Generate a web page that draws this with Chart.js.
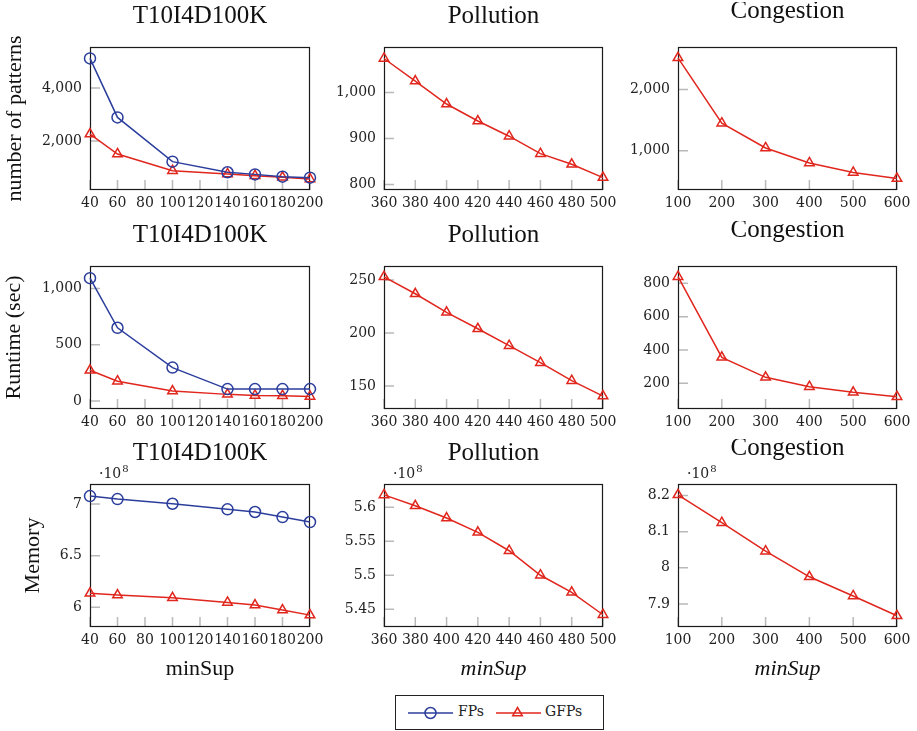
<!DOCTYPE html>
<html>
<head>
<meta charset="utf-8">
<script src="https://cdn.jsdelivr.net/npm/chart.js@4.4.1/dist/chart.umd.min.js"></script>
<style>
body { margin: 0; background: #fff; }
#wrap { position: relative; width: 917px; height: 731px; overflow: hidden; }
#wrap canvas { position: absolute; }
#legend { position: absolute; left: 395px; top: 695px; width: 207px; height: 33px; border: 1px solid #222;
  font: 14px "DejaVu Serif"; color: #222; }
#legend svg, #legend span { position: absolute; }
</style>
</head>
<body>
<div id="wrap">
  <div id="legend">
    <svg style="left:11px;top:6px" width="48" height="22"><line x1="1" y1="11" x2="46" y2="11" stroke="#2c3e9c" stroke-width="1.5"/><circle cx="23.5" cy="11" r="5.5" fill="none" stroke="#2c3e9c" stroke-width="1.5"/></svg>
    <span style="left:62px;top:7px">FPs</span>
    <svg style="left:99px;top:6px" width="48" height="22"><line x1="1" y1="11" x2="46" y2="11" stroke="#e0261d" stroke-width="1.5"/><polygon points="22.5,5.5 27.3,13.8 17.7,13.8" fill="none" stroke="#e0261d" stroke-width="1.5"/></svg>
    <span style="left:149px;top:7px">GFPs</span>
  </div>
</div>
<script>
// minSup values per dataset
const xT10 = [40, 60, 100, 140, 160, 180, 200]
const xPol = [360, 380, 400, 420, 440, 460, 480, 500]
const xCon = [100, 200, 300, 400, 500, 600]
const xTicksT10 = [40, 60, 80, 100, 120, 140, 160, 180, 200]
const xTicksPol = [360, 380, 400, 420, 440, 460, 480, 500]
const xTicksCon = [100, 200, 300, 400, 500, 600]

// number of patterns
const patT10FPs = [5120, 2890, 1220, 820, 740, 655, 615]
const patT10GFPs = [2260, 1510, 880, 755, 690, 630, 570]
const patPolGFPs = [1074, 1025, 975, 938, 905, 867, 844, 815]
const patConGFPs = [2520, 1450, 1045, 800, 645, 545]
const patT10Range = [150, 5550], patT10Ticks = [2000, 4000]
const patPolRange = [788, 1099], patPolTicks = [800, 900, 1000]
const patConRange = [357, 2697], patConTicks = [1000, 2000]

// runtime (sec)
const rtT10FPs = [1092, 651, 297, 106, 106, 106, 106]
const rtT10GFPs = [273, 176, 88, 59, 50, 47, 41]
const rtPolGFPs = [253, 237, 219.5, 204, 188, 172, 155, 140.5]
const rtConGFPs = [840, 356, 236, 180, 146, 120]
const rtT10Range = [-71, 1200], rtT10Ticks = [0, 500, 1000]
const rtPolRange = [128.3, 263.2], rtPolTicks = [150, 200, 250]
const rtConRange = [46, 904], rtConTicks = [200, 400, 600, 800]

// memory
const memT10FPs = [7.077e8, 7.048e8, 7.003e8, 6.949e8, 6.923e8, 6.874e8, 6.826e8]
const memT10GFPs = [6.136e8, 6.119e8, 6.093e8, 6.048e8, 6.022e8, 5.974e8, 5.925e8]
const memPolGFPs = [5.618e8, 5.602e8, 5.584e8, 5.563e8, 5.536e8, 5.500e8, 5.475e8, 5.442e8]
const memConGFPs = [8.202e8, 8.125e8, 8.046e8, 7.975e8, 7.922e8, 7.867e8]
const memT10Range = [5.81e8, 7.194e8], memT10Ticks = [6e8, 6.5e8, 7e8]
const memPolRange = [5.424e8, 5.634e8], memPolTicks = [5.45e8, 5.5e8, 5.55e8, 5.6e8]
const memConRange = [7.836e8, 8.232e8], memConTicks = [7.9e8, 8e8, 8.1e8, 8.2e8]

const blue = '#2c3e9c', red = '#e0261d'
const wrap = document.getElementById('wrap')

// plot frames in page pixels
const cols = [{l: 90, r: 310}, {l: 384, r: 603}, {l: 678, r: 897}]
const rows = [{t: 47, b: 190}, {t: 266, b: 409}, {t: 484, b: 627}]
const yTitles = ['number of patterns', 'Runtime (sec)', 'Memory']
const yTitlePad = [2, 1, 20]

const panels = [
  {row: 0, col: 0, title: 'T10I4D100K', xs: xT10, xTicks: xTicksT10, fps: patT10FPs, gfps: patT10GFPs, range: patT10Range, yTicks: patT10Ticks},
  {row: 0, col: 1, title: 'Pollution', xs: xPol, xTicks: xTicksPol, gfps: patPolGFPs, range: patPolRange, yTicks: patPolTicks},
  {row: 0, col: 2, title: 'Congestion', xs: xCon, xTicks: xTicksCon, gfps: patConGFPs, range: patConRange, yTicks: patConTicks},
  {row: 1, col: 0, title: 'T10I4D100K', xs: xT10, xTicks: xTicksT10, fps: rtT10FPs, gfps: rtT10GFPs, range: rtT10Range, yTicks: rtT10Ticks},
  {row: 1, col: 1, title: 'Pollution', xs: xPol, xTicks: xTicksPol, gfps: rtPolGFPs, range: rtPolRange, yTicks: rtPolTicks},
  {row: 1, col: 2, title: 'Congestion', xs: xCon, xTicks: xTicksCon, gfps: rtConGFPs, range: rtConRange, yTicks: rtConTicks},
  {row: 2, col: 0, title: 'T10I4D100K', xs: xT10, xTicks: xTicksT10, fps: memT10FPs, gfps: memT10GFPs, range: memT10Range, yTicks: memT10Ticks, exp: true},
  {row: 2, col: 1, title: 'Pollution', xs: xPol, xTicks: xTicksPol, gfps: memPolGFPs, range: memPolRange, yTicks: memPolTicks, exp: true},
  {row: 2, col: 2, title: 'Congestion', xs: xCon, xTicks: xTicksCon, gfps: memConGFPs, range: memConRange, yTicks: memConTicks, exp: true}
]

// inward gray ticks + black frame, drawn under the lines
const frame = {
  id: 'frame',
  beforeDatasetsDraw(chart) {
    const {ctx, chartArea: a, scales: {x, y}} = chart
    ctx.save()
    ctx.strokeStyle = '#b9b9b9'
    ctx.lineWidth = 1.5
    ctx.beginPath()
    x.ticks.forEach(t => {
      const px = x.getPixelForValue(t.value)
      ctx.moveTo(px, a.bottom); ctx.lineTo(px, a.bottom - 10)
    })
    y.ticks.forEach(t => {
      const py = y.getPixelForValue(t.value)
      ctx.moveTo(a.left, py); ctx.lineTo(a.left + 10, py)
    })
    ctx.stroke()
    ctx.strokeStyle = '#1a1a1a'
    ctx.lineWidth = 1.2
    ctx.strokeRect(a.left + 0.5, a.top + 0.5, a.right - a.left - 1, a.bottom - a.top - 1)
    ctx.restore()
  }
}

// title over the plot area, plus the ·10^8 multiplier
const panelTitle = {
  id: 'panelTitle',
  afterDraw(chart, args, opts) {
    const {ctx, chartArea: a} = chart
    ctx.save()
    ctx.fillStyle = '#111'
    ctx.font = '25px "Liberation Serif"'
    ctx.textAlign = 'center'
    ctx.textBaseline = 'alphabetic'
    const d = Math.max(0, ctx.measureText(opts.text).actualBoundingBoxDescent)
    ctx.fillText(opts.text, (a.left + a.right) / 2, a.top - 24 - d)
    if (opts.exp) {
      ctx.textAlign = 'left'
      ctx.fillStyle = '#222'
      ctx.font = '14px "DejaVu Serif"'
      ctx.fillText('·10', a.left + 9, a.top - 6)
      const w = ctx.measureText('·10').width
      ctx.font = '10px "DejaVu Serif"'
      ctx.fillText('8', a.left + 10 + w, a.top - 12)
    }
    ctx.restore()
  }
}

const tickFont = {family: 'DejaVu Serif', size: 14}

function fmtY(v, exp) {
  if (exp) return String(+(v / 1e8).toFixed(3))
  return v.toLocaleString('en-US')
}

function makePanel(p) {
  const col = cols[p.col], row = rows[p.row]
  const yw = p.col === 0 ? 90 : 70
  const top = 45, right = 20
  const xh = p.row === 2 ? 62 : 30
  const canvas = document.createElement('canvas')
  canvas.width = col.r - col.l + yw + right
  canvas.height = row.b - row.t + top + xh
  canvas.style.left = (col.l - yw) + 'px'
  canvas.style.top = (row.t - top) + 'px'
  wrap.appendChild(canvas)

  const datasets = []
  if (p.fps) datasets.push({label: 'FPs', data: p.xs.map((x, i) => ({x: x, y: p.fps[i]})),
    borderColor: blue, pointStyle: 'circle'})
  datasets.push({label: 'GFPs', data: p.xs.map((x, i) => ({x: x, y: p.gfps[i]})),
    borderColor: red, pointStyle: 'triangle'})
  datasets.forEach(d => {
    d.borderWidth = 1.5
    d.pointRadius = 5.5
    d.pointBorderWidth = 1.5
    d.pointBorderColor = d.borderColor
    d.pointBackgroundColor = 'rgba(0,0,0,0)'
    d.tension = 0
    d.clip = false
  })

  new Chart(canvas.getContext('2d'), {
    type: 'line',
    data: {datasets: datasets},
    plugins: [frame, panelTitle],
    options: {
      responsive: false,
      animation: false,
      devicePixelRatio: 1,
      layout: {padding: {top: top, right: right, left: 0, bottom: 0}},
      plugins: {
        legend: {display: false},
        tooltip: {enabled: false},
        panelTitle: {text: p.title, exp: !!p.exp}
      },
      scales: {
        x: {
          type: 'linear',
          min: p.xs[0],
          max: p.xs[p.xs.length - 1],
          afterBuildTicks: s => { s.ticks = p.xTicks.map(v => ({value: v})) },
          afterFit: s => { s.height = xh },
          grid: {display: false, drawTicks: false},
          border: {display: false},
          ticks: {autoSkip: false, maxRotation: 0, padding: 5, color: '#222', font: tickFont,
            callback: v => String(v)},
          title: {
            display: p.row === 2,
            text: 'minSup',
            color: '#111',
            font: {family: 'Liberation Serif', size: 22, style: p.col === 0 ? 'normal' : 'italic'},
            padding: {top: 0, bottom: 7}
          }
        },
        y: {
          type: 'linear',
          min: p.range[0],
          max: p.range[1],
          afterBuildTicks: s => { s.ticks = p.yTicks.map(v => ({value: v})) },
          afterFit: s => { s.width = yw },
          grid: {display: false, drawTicks: false},
          border: {display: false},
          ticks: {padding: 8, color: '#222', font: tickFont, callback: v => fmtY(v, p.exp)},
          title: {
            display: p.col === 0,
            text: yTitles[p.row],
            color: '#111',
            font: {family: 'Liberation Serif', size: 22},
            padding: {top: yTitlePad[p.row], bottom: 0}
          }
        }
      }
    }
  })
}

panels.forEach(makePanel)
</script>
</body>
</html>
